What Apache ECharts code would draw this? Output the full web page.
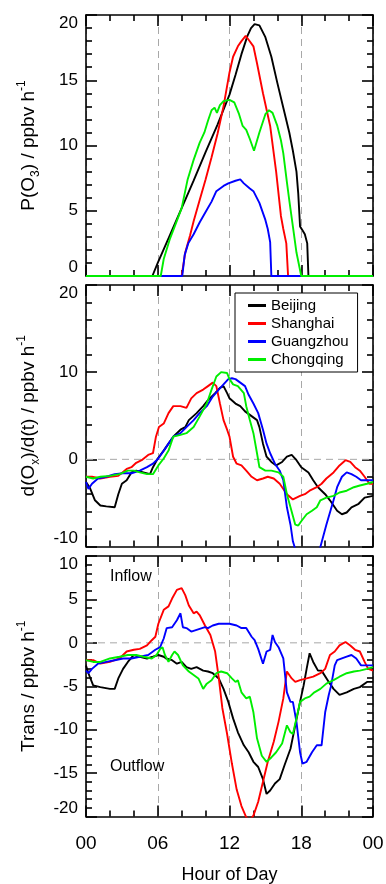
<!DOCTYPE html>
<html>
<head>
<meta charset="utf-8">
<script src="https://cdn.jsdelivr.net/npm/echarts@6/dist/echarts.min.js"></script>
<style>
  html, body { margin: 0; padding: 0; background: #ffffff; }
  #chart { width: 386px; height: 884px; }
</style>
</head>
<body>
<div id="chart"></div>
<script>
// Cities and line colours
const cities = ['Beijing', 'Shanghai', 'Guangzhou', 'Chongqing'];
const cityColors = ['#000000', '#ff0000', '#0000ff', '#00ee00'];
const hourTicks = ['00', '06', '12', '18', '00'];

// Panel 1: ozone production rate P(O3), [hour, ppbv/h]
const pO3Beijing = [[0,0],[5.55,0],[6,1.0],[7,3.1],[8,5.2],[9,7.3],[10,9.5],[11,11.6],[12,13.9],[12.5,15.4],[13,17.0],[13.5,18.4],[13.8,19.0],[14.1,19.3],[14.5,19.2],[15,18.3],[15.5,16.8],[16,14.8],[16.5,12.9],[17,11.0],[17.3,9.6],[17.6,8.0],[17.75,6.3],[17.9,3.8],[18.1,3.5],[18.3,3.2],[18.5,2.5],[18.6,0],[24,0]];
const pO3Shanghai = [[0,0],[8.0,0],[8.3,1.8],[8.7,3.1],[9,4.2],[9.5,5.8],[10,7.4],[10.5,9.1],[11,10.9],[11.5,13.0],[12,15.6],[12.3,16.8],[12.7,17.6],[13,18.0],[13.35,18.4],[13.6,18.1],[14,17.6],[14.3,16.3],[14.8,14.0],[15.4,11.5],[15.9,8.0],[16.3,4.6],[16.5,3.6],[16.75,2.5],[16.9,0],[24,0]];
const pO3Guangzhou = [[0,0],[8.05,0],[8.25,1.6],[8.55,2.5],[9,3.2],[9.5,4.1],[10,4.9],[10.5,5.7],[10.9,6.5],[11.5,6.9],[11.9,7.1],[12.5,7.3],[12.9,7.4],[13.2,7.1],[13.7,6.7],[14,6.5],[14.5,5.6],[15,4.3],[15.2,3.6],[15.4,2.6],[15.5,0],[24,0]];
const pO3Chongqing = [[0,0],[6.25,0],[6.5,1.3],[7,2.8],[7.5,4.0],[8,5.2],[8.5,7.4],[9,8.9],[9.5,10.2],[9.9,11.0],[10.2,11.9],[10.5,12.7],[10.75,12.9],[10.95,12.5],[11.2,13.1],[11.5,13.4],[12,13.5],[12.4,13.3],[12.8,12.4],[13.1,11.5],[13.4,11.2],[13.7,10.5],[14.05,9.6],[14.5,11.0],[15,12.4],[15.3,12.7],[15.6,12.5],[16,11.5],[16.3,10.4],[16.5,9.4],[16.8,7.2],[17.0,5.8],[17.3,3.8],[17.6,1.8],[18.0,0],[24,0]];

// Panel 2: Ox tendency d(Ox)/d(t), [hour, ppbv/h]
const dOxBeijing = [[0,-2.6],[0.3,-3.2],[0.75,-4.7],[1.2,-5.3],[1.7,-5.4],[2.4,-5.5],[2.7,-4.0],[3.0,-2.8],[3.4,-2.4],[3.8,-1.5],[4.2,-1.3],[4.8,-1.5],[5.35,-1.7],[5.6,-0.9],[6.0,0.1],[6.5,1.0],[6.9,1.8],[7.3,2.6],[7.9,3.4],[8.3,3.7],[8.6,4.5],[9.25,5.3],[9.8,6.1],[10.2,6.8],[10.8,7.6],[11.2,8.2],[11.5,8.4],[11.8,7.6],[12.0,7.0],[12.5,6.4],[12.9,6.1],[13.3,5.5],[13.7,5.1],[14.3,4.5],[14.5,3.7],[14.8,1.8],[15.1,0.3],[15.5,-0.3],[15.9,-0.7],[16.4,-0.3],[16.8,0.3],[17.2,0.5],[17.6,-0.1],[18.0,-0.9],[18.6,-1.5],[19.0,-2.4],[19.4,-3.2],[20.0,-4.0],[20.4,-4.7],[21.0,-5.9],[21.4,-6.3],[21.8,-6.1],[22.2,-5.5],[22.8,-5.1],[23.3,-4.4],[24,-4.2]];
const dOxShanghai = [[0,-2.0],[0.5,-2.0],[1.2,-2.2],[2.0,-2.0],[2.7,-1.9],[3.4,-1.1],[3.8,-0.9],[4.2,-0.4],[4.65,-0.1],[5.2,0.5],[5.6,0.7],[5.85,2.6],[6.1,3.7],[6.5,4.1],[6.9,5.3],[7.3,6.1],[7.9,6.1],[8.4,5.9],[8.8,7.0],[9.25,7.6],[9.8,8.0],[10.2,8.4],[10.6,8.8],[10.9,8.4],[11.2,6.4],[11.5,4.5],[11.8,3.4],[12.0,2.6],[12.3,0.3],[12.6,-0.5],[13.0,-0.7],[13.4,-1.3],[13.85,-2.0],[14.3,-2.4],[14.8,-2.2],[15.2,-2.0],[15.7,-2.2],[16.2,-2.8],[16.8,-4.0],[17.3,-4.6],[17.9,-4.2],[18.3,-4.0],[18.7,-3.6],[19.3,-3.2],[19.7,-2.8],[20.1,-2.2],[20.7,-1.5],[21.2,-0.7],[21.7,-0.1],[22.1,-0.3],[22.5,-0.9],[22.9,-1.3],[23.3,-2.0],[23.7,-2.8],[24,-2.8]];
const dOxGuangzhou = [[0,-2.6],[0.2,-3.4],[0.5,-2.8],[1.0,-2.2],[1.7,-2.0],[2.4,-1.7],[3.1,-1.6],[3.8,-1.6],[4.5,-1.3],[5.1,-0.9],[5.6,-0.5],[6.05,0.1],[6.5,1.0],[6.9,1.8],[7.3,2.6],[7.9,3.0],[8.4,3.7],[9.0,4.5],[9.5,5.3],[10.1,6.1],[10.6,7.2],[11.1,8.0],[11.5,8.6],[11.9,9.2],[12.2,9.3],[12.5,9.2],[12.9,8.8],[13.3,8.4],[13.6,7.4],[14.0,6.4],[14.4,5.3],[14.8,3.4],[15.1,1.8],[15.4,0.7],[15.8,-0.5],[16.2,-1.3],[16.5,-2.4],[16.8,-5.5],[17.1,-7.5],[17.3,-9.4],[17.5,-10.3],[17.8,-13.0],[19.2,-13.0],[19.55,-10.3],[20.1,-7.5],[20.7,-4.7],[21.0,-3.2],[21.4,-2.0],[21.8,-1.5],[22.2,-1.7],[22.6,-2.0],[23.0,-2.4],[23.5,-2.4],[24,-2.4]];
const dOxChongqing = [[0,-2.0],[0.6,-2.2],[1.2,-2.0],[2.0,-1.9],[2.8,-1.7],[3.5,-1.3],[4.0,-1.3],[4.5,-1.5],[5.1,-1.7],[5.6,-1.7],[6.05,-0.7],[6.5,0.1],[6.9,1.0],[7.3,2.6],[7.9,2.8],[8.4,3.0],[9.0,3.7],[9.5,4.9],[10.1,6.4],[10.5,8.0],[10.9,9.5],[11.3,10.0],[11.8,9.9],[12.0,9.2],[12.3,8.6],[12.7,8.4],[13.2,7.6],[13.4,6.1],[13.7,4.5],[14.0,3.0],[14.3,0.7],[14.5,-0.9],[15.0,-1.3],[15.5,-1.3],[16.1,-1.5],[16.5,-2.0],[16.8,-4.0],[17.1,-5.5],[17.5,-7.5],[17.75,-7.6],[18.0,-7.1],[18.45,-6.3],[18.9,-5.9],[19.3,-5.5],[19.6,-4.7],[20.1,-4.4],[20.7,-4.2],[21.2,-3.8],[21.8,-3.6],[22.4,-3.2],[22.9,-3.0],[23.5,-2.8],[24,-2.6]];

// Panel 3: transport contribution, [hour, ppbv/h]
const transBeijing = [[0,-2.6],[0.2,-3.5],[0.6,-4.9],[1.2,-5.1],[2.0,-5.3],[2.4,-5.3],[2.7,-4.1],[3.1,-3.0],[3.5,-2.2],[4.0,-1.4],[4.5,-1.6],[5.1,-1.8],[5.6,-1.6],[6.05,-1.4],[6.5,-1.6],[6.7,-1.8],[7.2,-2.0],[7.6,-2.4],[8.0,-2.2],[8.4,-2.8],[8.8,-3.0],[9.25,-2.8],[9.8,-3.2],[10.2,-3.3],[10.6,-3.5],[11.1,-4.1],[11.5,-5.3],[11.9,-6.8],[12.3,-8.7],[12.7,-10.3],[13.2,-11.8],[13.6,-12.6],[14.0,-13.7],[14.4,-14.3],[14.8,-15.7],[15.1,-17.4],[15.4,-17.0],[15.8,-16.2],[16.2,-15.7],[16.6,-14.1],[17.1,-12.2],[17.5,-9.5],[17.9,-6.8],[18.2,-4.9],[18.45,-3.0],[18.7,-1.2],[19.0,-2.2],[19.4,-3.2],[19.7,-3.2],[20.3,-4.5],[20.7,-5.3],[21.2,-6.0],[21.8,-5.7],[22.4,-5.3],[22.9,-5.1],[23.5,-4.5],[24,-4.5]];
const transShanghai = [[0,-2.0],[0.6,-2.0],[1.2,-2.4],[2.0,-2.2],[2.8,-1.8],[3.4,-1.0],[4.0,-0.8],[4.5,-0.7],[5.1,-0.3],[5.5,0.3],[5.8,0.7],[6.05,2.2],[6.5,3.8],[6.9,4.2],[7.2,5.1],[7.6,6.1],[8.0,6.3],[8.3,5.5],[8.6,4.3],[9.0,3.4],[9.25,3.6],[9.5,3.2],[9.95,2.0],[10.4,0.9],[10.8,-1.0],[11.1,-4.0],[11.4,-7.5],[11.8,-10.5],[12.2,-13.9],[12.6,-16.9],[13.0,-18.8],[13.4,-20.1],[13.7,-20.4],[14.0,-19.9],[14.4,-18.3],[14.8,-16.0],[15.2,-13.7],[15.7,-11.4],[16.1,-9.1],[16.5,-6.4],[16.8,-3.3],[16.9,-3.2],[17.2,-4.1],[17.5,-4.5],[17.9,-4.3],[18.45,-4.1],[19.0,-3.9],[19.6,-3.5],[20.0,-3.0],[20.4,-1.4],[20.8,-1.0],[21.2,-0.3],[21.7,0.1],[22.1,-0.3],[22.5,-0.8],[22.9,-1.0],[23.3,-2.2],[23.6,-3.0],[24,-3.2]];
const transGuangzhou = [[0,-3.2],[0.2,-3.5],[0.5,-3.0],[1.0,-2.4],[1.7,-2.2],[2.4,-2.0],[3.1,-1.8],[3.8,-1.8],[4.5,-1.6],[5.2,-1.4],[5.8,-0.8],[6.2,-0.5],[6.5,0.5],[6.75,1.7],[7.2,1.8],[7.6,2.6],[7.9,3.4],[8.1,1.8],[8.4,1.7],[8.8,1.3],[9.25,1.5],[9.7,1.7],[9.95,1.8],[10.2,1.7],[10.6,2.0],[11.1,2.2],[11.5,2.2],[12.0,2.2],[12.6,2.0],[13.0,1.7],[13.4,1.7],[13.85,0.7],[14.1,0.3],[14.4,-0.7],[14.8,-2.4],[15.1,-1.0],[15.4,-0.8],[15.6,0.9],[15.8,0.1],[16.1,-0.5],[16.5,-1.8],[16.8,-5.7],[17.1,-6.8],[17.3,-6.8],[17.6,-9.1],[17.9,-12.6],[18.1,-13.9],[18.45,-13.7],[18.9,-12.6],[19.3,-11.8],[19.7,-11.8],[20.0,-8.0],[20.3,-6.0],[20.5,-4.9],[20.8,-2.6],[21.0,-2.0],[21.4,-1.8],[21.8,-1.6],[22.2,-1.4],[22.6,-1.8],[23.0,-2.6],[23.5,-2.6],[24,-2.6]];
const transChongqing = [[0,-2.0],[0.6,-2.2],[1.2,-2.2],[2.0,-1.8],[2.8,-1.6],[3.5,-1.4],[4.2,-1.4],[4.8,-1.6],[5.5,-1.8],[5.9,-1.4],[6.2,-0.7],[6.4,-0.5],[6.6,-1.4],[6.9,-2.2],[7.2,-1.4],[7.4,-1.0],[7.7,-1.4],[8.1,-2.6],[8.6,-3.3],[9.0,-3.7],[9.4,-4.1],[9.8,-5.3],[10.1,-4.7],[10.5,-4.3],[10.9,-3.5],[11.3,-3.3],[11.8,-3.5],[12.2,-4.1],[12.5,-4.5],[12.7,-4.3],[13.0,-5.7],[13.4,-6.4],[13.7,-6.2],[14.0,-8.0],[14.3,-11.0],[14.7,-13.0],[15.1,-13.7],[15.5,-13.2],[15.9,-12.6],[16.4,-11.6],[16.8,-9.5],[17.1,-10.3],[17.3,-10.5],[17.6,-8.7],[17.9,-6.8],[18.3,-6.4],[18.7,-6.2],[19.1,-5.7],[19.6,-5.3],[20.1,-4.7],[20.7,-4.3],[21.2,-3.9],[21.8,-3.5],[22.4,-3.3],[22.9,-3.2],[23.5,-3.0],[24,-2.8]];

// Zero reference line used in the lower two panels
const zeroLine = [[0, 0], [24, 0]];

const panels = [
  { series: [pO3Beijing, pO3Shanghai, pO3Guangzhou, pO3Chongqing], min: 0, max: 20, interval: 5, minor: 5,
    title: '{n|P(O}{sub|3}{n|) / ppbv h}{sup|-1}', zero: false },
  { series: [dOxBeijing, dOxShanghai, dOxGuangzhou, dOxChongqing], min: -10, max: 20, interval: 10, minor: 5,
    title: '{n|d(O}{sub|x}{n|)/d(t) / ppbv h}{sup|-1}', zero: true },
  { series: [transBeijing, transShanghai, transGuangzhou, transChongqing], min: -20, max: 10, interval: 5, minor: 5,
    title: '{n|Trans / ppbv h}{sup|-1}', zero: true }
];

const FONT = '"Liberation Sans", Arial, Helvetica, sans-serif';
const frame = { color: '#000', width: 1.6 };
const dash = { color: '#a8a8a8', width: 1, type: [7, 5] };
const nameRich = {
  n: { fontSize: 19, fontFamily: FONT, color: '#000', lineHeight: 26 },
  sub: { fontSize: 12, fontFamily: FONT, color: '#000', verticalAlign: 'bottom', lineHeight: 12 },
  sup: { fontSize: 12, fontFamily: FONT, color: '#000', verticalAlign: 'top', lineHeight: 12 }
};

const grids = [
  { left: 86, right: 13, top: 15, height: 261 },
  { left: 86, right: 13, top: 285, height: 261.5 },
  { left: 86, right: 13, top: 556, height: 260.5 }
].map(g => Object.assign({ outerBoundsMode: 'none', containLabel: false }, g));

const xAxes = [], yAxes = [], series = [];
panels.forEach((p, g) => {
  const last = g === panels.length - 1;
  // bottom x axis with the dashed hour guides
  xAxes.push({
    type: 'value', gridIndex: g, min: 0, max: 24, interval: 6, position: 'bottom',
    axisLine: { show: true, onZero: false, lineStyle: frame },
    axisTick: { show: true, inside: true, length: 11, lineStyle: frame },
    minorTick: { show: true, splitNumber: 3, length: 6, lineStyle: frame },
    splitLine: { show: true, lineStyle: dash },
    axisLabel: last ? {
      show: true, fontSize: 19, fontFamily: FONT, color: '#000', margin: 18,
      formatter: v => hourTicks[Math.round(v / 6)]
    } : { show: false },
    name: last ? 'Hour of Day' : '',
    nameLocation: 'middle', nameGap: 50,
    nameTextStyle: { fontSize: 18, fontFamily: FONT, color: '#000' }
  });
  // mirrored top x axis
  xAxes.push({
    type: 'value', gridIndex: g, min: 0, max: 24, interval: 6, position: 'top',
    axisLine: { show: true, onZero: false, lineStyle: frame },
    axisTick: { show: true, inside: true, length: 11, lineStyle: frame },
    minorTick: { show: true, splitNumber: 3, length: 6, lineStyle: frame },
    splitLine: { show: false }, axisLabel: { show: false }
  });
  // left y axis
  yAxes.push({
    type: 'value', gridIndex: g, min: p.min, max: p.max, interval: p.interval, position: 'left',
    axisLine: { show: true, onZero: false, lineStyle: frame },
    axisTick: { show: true, inside: true, length: 11, lineStyle: frame },
    minorTick: { show: true, splitNumber: p.minor, length: 6, lineStyle: frame },
    splitLine: { show: false },
    axisLabel: {
      show: true, fontSize: 17, fontFamily: FONT, color: '#000', margin: 8,
      verticalAlignMaxLabel: 'top', verticalAlignMinLabel: 'bottom'
    },
    name: p.title, nameLocation: 'middle', nameRotate: 90, nameGap: 44,
    nameTextStyle: { rich: nameRich }
  });
  // mirrored right y axis
  yAxes.push({
    type: 'value', gridIndex: g, min: p.min, max: p.max, interval: p.interval, position: 'right',
    axisLine: { show: true, onZero: false, lineStyle: frame },
    axisTick: { show: true, inside: true, length: 11, lineStyle: frame },
    minorTick: { show: true, splitNumber: p.minor, length: 6, lineStyle: frame },
    splitLine: { show: false }, axisLabel: { show: false }
  });

  if (p.zero) {
    series.push({
      type: 'line', xAxisIndex: 2 * g, yAxisIndex: 2 * g, data: zeroLine,
      symbol: 'none', silent: true, z: 1,
      lineStyle: dash
    });
  }
  p.series.forEach((data, i) => {
    series.push({
      type: 'line', name: cities[i], xAxisIndex: 2 * g, yAxisIndex: 2 * g,
      data: data, symbol: 'none', showSymbol: false, clip: true, z: 3 + i,
      lineStyle: { color: cityColors[i], width: 1.9 },
      itemStyle: { color: cityColors[i] }
    });
  });
});

const chart = echarts.init(document.getElementById('chart'), null, { renderer: 'canvas' });
chart.setOption({
  animation: false,
  backgroundColor: '#ffffff',
  textStyle: { fontFamily: FONT },
  grid: grids,
  xAxis: xAxes,
  yAxis: yAxes,
  legend: {
    data: cities, orient: 'vertical', left: 235, top: 293,
    selectedMode: false, icon: 'rect', itemWidth: 18, itemHeight: 3, itemGap: 3,
    padding: [5, 9, 5, 13],
    borderColor: '#000', borderWidth: 1, backgroundColor: '#ffffff',
    textStyle: { fontSize: 15, fontFamily: FONT, color: '#000', lineHeight: 15 },
    z: 10
  },
  graphic: [
    { type: 'text', left: 110, top: 569, z: 10,
      style: { text: 'Inflow', fontSize: 16, fontFamily: FONT, fill: '#000' } },
    { type: 'text', left: 110, top: 759, z: 10,
      style: { text: 'Outflow', fontSize: 16, fontFamily: FONT, fill: '#000' } }
  ],
  series: series
});
</script>
</body>
</html>
